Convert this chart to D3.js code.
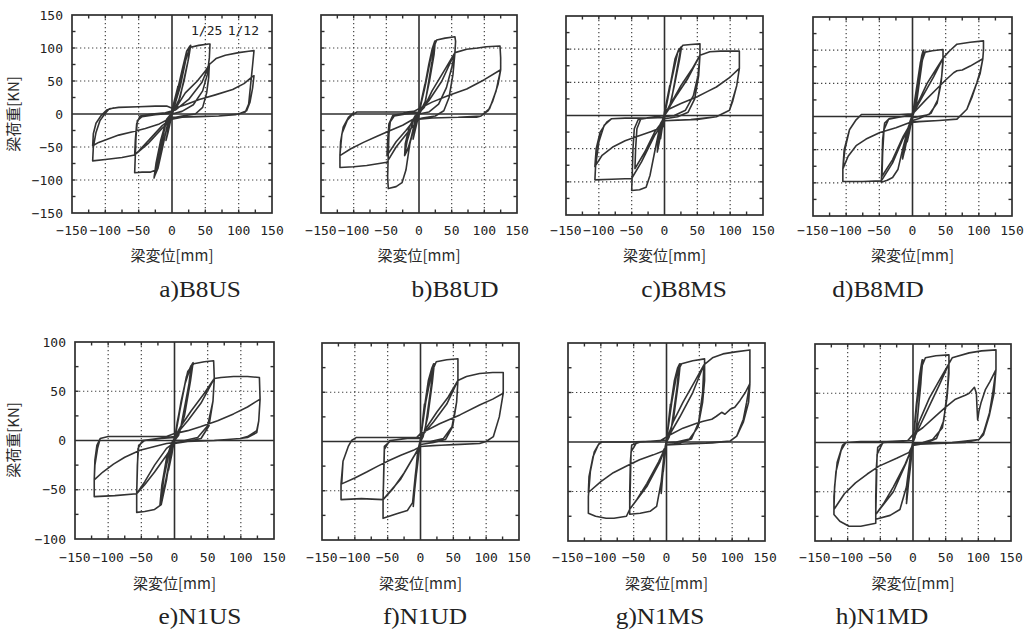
<!DOCTYPE html>
<html><head><meta charset="utf-8">
<script src="https://cdn.jsdelivr.net/npm/d3@7"></script>
<style>body{margin:0;background:#fff}</style>
</head><body>
<svg id="chart" width="1033" height="633"></svg>
<script>
// ---------- data (beam displacement mm, beam load kN) ----------
const xTicks = [-150, -100, -50, 0, 50, 100, 150];
const yTicksB8 = [-150, -100, -50, 0, 50, 100, 150];
const yTicksN1 = [-100, -50, 0, 50, 100];
const captions = ["a)B8US", "b)B8UD", "c)B8MS", "d)B8MD", "e)N1US", "f)N1UD", "g)N1MS", "h)N1MD"];
const xTitle = "梁変位[mm]";
const yTitle = "梁荷重[KN]";
const driftLabels = ["1/25", "1/12"];

const B8US = [
[0,0],[4,20],[9,42],[6,30],[0,6],[-4,-15],[-9,-40],[-6,-28],[0,0],
[8,35],[16,70],[22,95],[27,103],[28,104],[25,85],[18,50],[8,12],[0,2],[-6,-12],[-14,-50],[-21,-82],[-26,-94],[-27,-97],[-24,-75],[-17,-40],[-8,-8],[0,2],
[10,35],[20,80],[26,98],[27,100],[24,80],[12,25],[0,0],[-10,-30],[-20,-72],[-26,-92],[-22,-68],[-10,-15],[0,0],
[12,40],[22,88],[28,101],[40,104],[55,106],[57,106],[56,85],[53,60],[46,35],[32,14],[15,4],[0,0],[-8,-8],[-18,-55],[-24,-85],[-32,-88],[-45,-88],[-56,-89],[-55,-62],[-54,-35],[-52,-10],[-45,-4],[-25,-1],[-5,1],
[5,8],[20,32],[38,50],[50,65],[56,75],[55,55],[52,32],[46,10],[35,0],[15,-3],[0,-6],[-15,-18],[-35,-40],[-50,-56],[-56,-62],[-55,-40],[-53,-15],[-48,-3],[-30,0],[-10,2],
[5,6],[25,22],[45,48],[56,75],[66,84],[80,89],[100,93],[115,95],[123,96],[121,75],[118,45],[115,15],[110,3],[95,-1],[70,-3],[40,-4],[15,-5],[0,-8],[-15,-22],[-35,-44],[-56,-62],[-75,-66],[-100,-69],[-119,-71],[-118,-50],[-114,-28],[-108,-10],[-101,0],[-94,8],[-80,10],[-50,11],[-25,12],[-8,12],
[2,8],[20,14],[41,22],[65,29],[91,37],[108,46],[121,57],[123,58],[121,40],[117,18],[112,5],[100,0],[70,-3],[35,-4],[0,-5],[-19,-15],[-40,-22],[-59,-27],[-80,-32],[-94,-37],[-110,-43],[-119,-48],[-118,-30],[-114,-14],[-106,-2],[-98,6],[-88,9]
];

const B8UD = [
[0,0],[4,22],[9,45],[6,30],[0,5],[-4,-15],[-9,-38],[-6,-25],[0,0],
[8,38],[15,75],[20,98],[24,110],[25,111],[23,90],[16,50],[8,12],[0,0],[-5,-12],[-12,-38],[-18,-55],[-22,-63],[-21,-45],[-15,-20],[-6,-3],[0,2],
[9,40],[18,88],[23,106],[24,108],[20,80],[10,20],[0,0],[-8,-22],[-16,-50],[-22,-62],[-18,-40],[-8,-8],[0,2],
[10,45],[20,95],[27,112],[40,115],[55,117],[56,110],[55,93],[50,70],[42,40],[30,15],[15,3],[0,0],[-6,-10],[-14,-45],[-20,-85],[-26,-104],[-35,-110],[-47,-113],[-48,-95],[-47,-60],[-46,-30],[-44,-12],[-38,-3],[-20,0],[0,2],
[8,10],[20,35],[40,68],[55,93],[52,60],[46,25],[38,5],[25,-3],[5,-6],[-8,-10],[-20,-25],[-35,-42],[-49,-63],[-48,-40],[-46,-15],[-40,-2],[-20,1],[0,3],
[15,20],[35,50],[55,93],[73,98],[90,100],[103,102],[124,103],[125,85],[125,67],[118,35],[108,8],[95,-3],[88,-5],[60,-5],[20,-6],[0,-8],[-15,-25],[-35,-50],[-49,-73],[-80,-78],[-100,-80],[-121,-81],[-121,-62],[-118,-30],[-110,-10],[-103,-2],[-95,3],[-60,3],[-20,3],[-8,4],
[0,8],[20,18],[45,28],[73,38],[100,52],[125,67],[121,45],[113,20],[106,5],[95,-3],[60,-5],[20,-6],[0,-8],[-9,-8],[-25,-17],[-44,-25],[-65,-34],[-85,-43],[-105,-53],[-121,-63],[-120,-42],[-116,-20],[-108,-5],[-100,2]
];

const B8MS = [
[0,0],[4,25],[8,45],[5,30],[0,5],[-3,-15],[-6,-35],[-4,-22],[0,0],
[8,40],[15,78],[21,98],[25,103],[26,104],[23,85],[15,45],[7,10],[0,0],[-4,-15],[-8,-40],[-11,-55],[-10,-40],[-6,-15],[0,2],
[8,42],[16,85],[22,100],[25,102],[20,75],[10,20],[0,0],[-5,-22],[-10,-50],[-8,-35],[-3,-8],[0,2],
[10,50],[20,95],[28,106],[40,107],[54,108],[54,91],[51,60],[44,30],[32,8],[15,0],[0,-2],[-6,-12],[-15,-55],[-22,-90],[-28,-108],[-38,-112],[-50,-113],[-49,-85],[-48,-50],[-46,-20],[-40,-6],[-20,-3],[0,0],
[8,15],[25,45],[42,70],[54,91],[52,60],[46,25],[36,5],[20,-2],[0,-5],[-15,-25],[-30,-55],[-45,-80],[-44,-50],[-42,-20],[-36,-5],[-15,-2],[0,0],
[15,25],[35,55],[54,91],[69,96],[85,97],[99,97],[114,97],[114,84],[114,71],[110,45],[104,22],[99,8],[79,-2],[50,-6],[20,-7],[0,-8],[-15,-30],[-35,-70],[-50,-95],[-80,-96],[-106,-97],[-105,-77],[-100,-40],[-92,-15],[-81,-5],[-60,-4],[-30,-4],[0,-3],
[3,8],[25,18],[49,28],[65,36],[79,43],[100,58],[114,71],[110,45],[99,8],[79,-2],[40,-6],[0,-8],[-2,-17],[-20,-24],[-43,-32],[-60,-38],[-78,-47],[-95,-60],[-106,-77],[-104,-50],[-98,-25],[-88,-10],[-81,-5]
];

const B8MD = [
[0,0],[4,25],[8,45],[5,30],[0,5],[-4,-18],[-8,-38],[-5,-25],[0,0],
[6,40],[11,75],[14,92],[16,99],[17,100],[14,80],[8,35],[3,8],[0,0],[-5,-18],[-10,-42],[-14,-60],[-15,-64],[-12,-45],[-7,-18],[0,2],
[6,42],[12,82],[16,97],[14,78],[6,20],[0,0],[-7,-28],[-12,-52],[-15,-62],[-11,-38],[-4,-8],[0,3],
[8,45],[15,85],[19,97],[30,99],[46,101],[46,82],[43,50],[37,20],[25,3],[10,0],[0,-2],[-6,-15],[-15,-50],[-22,-80],[-30,-92],[-38,-96],[-47,-99],[-46,-70],[-45,-35],[-42,-10],[-35,-3],[-15,0],[0,2],
[8,20],[22,50],[36,72],[46,88],[44,60],[38,25],[28,5],[10,-3],[0,-6],[-14,-30],[-30,-65],[-46,-90],[-45,-55],[-43,-20],[-36,-4],[-15,0],[0,3],
[15,30],[32,60],[46,88],[55,98],[67,109],[87,112],[107,114],[107,100],[106,87],[102,68],[97,51],[90,30],[82,11],[67,-4],[40,-6],[10,-8],[0,-9],[-15,-35],[-30,-70],[-47,-97],[-75,-98],[-105,-98],[-105,-79],[-102,-50],[-95,-20],[-85,-5],[-77,3],[-50,3],[-20,3],[0,4],
[4,8],[20,25],[36,41],[50,55],[62,66],[67,69],[75,70],[87,76],[106,87],[102,65],[97,51],[82,11],[67,-4],[40,-6],[0,-8],[-4,-9],[-25,-17],[-49,-24],[-70,-34],[-85,-44],[-97,-60],[-105,-79],[-103,-50],[-95,-20],[-85,-5],[-77,3]
];

const N1US = [
[0,0],[4,18],[9,35],[6,22],[0,3],[-4,-14],[-9,-30],[-6,-18],[0,0],
[8,30],[16,58],[23,72],[27,78],[28,79],[24,60],[15,25],[6,5],[0,0],[-6,-15],[-13,-40],[-19,-60],[-22,-66],[-19,-45],[-12,-18],[-4,-2],[0,2],
[9,35],[18,65],[25,76],[22,58],[10,15],[0,0],[-8,-25],[-16,-52],[-21,-64],[-16,-38],[-6,-6],[0,2],
[10,40],[20,70],[29,78],[45,80],[59,81],[60,63],[58,40],[50,15],[35,3],[15,0],[0,0],[-5,-8],[-12,-40],[-20,-65],[-30,-70],[-45,-72],[-57,-73],[-57,-54],[-56,-25],[-54,-5],[-45,0],[-20,2],[0,3],
[10,15],[25,30],[45,48],[60,63],[58,40],[52,15],[40,2],[20,-1],[0,-3],[-12,-15],[-30,-32],[-45,-45],[-57,-54],[-56,-30],[-55,-8],[-48,0],[-25,2],[0,4],
[20,20],[40,38],[60,63],[70,64],[89,65],[110,65],[128,64],[129,42],[127,20],[124,10],[110,4],[99,2],[60,0],[20,-1],[0,-2],[-12,-8],[-30,-25],[-45,-42],[-57,-54],[-90,-56],[-121,-57],[-121,-40],[-120,-20],[-117,-5],[-112,2],[-100,4],[-60,4],[-12,4],
[0,7],[20,10],[39,14],[65,20],[89,27],[110,34],[129,42],[127,20],[124,8],[110,3],[99,2],[60,0],[20,-1],[0,-2],[-12,-3],[-30,-6],[-52,-10],[-75,-17],[-92,-24],[-108,-32],[-121,-40],[-120,-25],[-116,-8],[-112,2]
];

const N1UD = [
[0,0],[3,20],[6,38],[4,25],[0,3],[-3,-15],[-6,-32],[-4,-20],[0,0],
[6,35],[12,62],[17,74],[20,79],[21,79],[18,60],[11,25],[4,5],[0,0],[-4,-18],[-8,-42],[-10,-58],[-11,-66],[-9,-45],[-5,-15],[0,2],
[7,38],[14,66],[19,76],[16,55],[7,12],[0,0],[-5,-25],[-9,-50],[-11,-62],[-8,-35],[-3,-6],[0,2],
[8,40],[17,70],[24,81],[40,83],[57,84],[57,62],[55,40],[48,15],[35,3],[15,0],[0,0],[-3,-8],[-8,-35],[-12,-62],[-20,-70],[-35,-73],[-57,-78],[-57,-60],[-56,-30],[-55,-5],[-45,1],[-20,3],[0,3],
[10,15],[25,30],[42,45],[57,62],[55,40],[49,15],[38,2],[20,-1],[0,-3],[-10,-15],[-25,-32],[-42,-48],[-57,-59],[-56,-35],[-55,-8],[-47,1],[-20,3],[0,4],
[20,20],[40,38],[57,62],[70,66],[90,69],[110,70],[126,70],[126,49],[120,25],[111,5],[100,0],[90,-2],[60,-3],[20,-4],[0,-5],[-10,-15],[-30,-38],[-57,-59],[-90,-58],[-121,-59],[-121,-43],[-118,-20],[-110,-5],[-105,1],[-98,4],[-50,4],[-6,4],
[0,8],[29,18],[60,27],[90,37],[110,43],[126,49],[120,25],[111,5],[100,0],[90,-2],[50,-3],[0,-5],[-11,-9],[-30,-14],[-47,-19],[-65,-25],[-82,-31],[-100,-37],[-120,-43],[-118,-20],[-110,-5],[-105,1]
];

const N1MS = [
[0,0],[3,20],[6,38],[4,25],[0,3],[-3,-15],[-5,-30],[-3,-18],[0,0],
[6,35],[12,62],[17,75],[20,79],[21,79],[18,60],[11,25],[4,5],[0,0],[-3,-15],[-6,-35],[-8,-50],[-8,-52],[-6,-35],[-3,-12],[0,2],
[7,38],[14,66],[19,76],[16,55],[7,12],[0,0],[-4,-20],[-7,-42],[-8,-50],[-6,-30],[-2,-5],[0,2],
[8,40],[16,70],[23,79],[40,82],[58,84],[58,62],[55,40],[48,15],[35,3],[15,0],[0,-1],[-3,-8],[-8,-40],[-15,-65],[-25,-70],[-40,-72],[-56,-73],[-56,-50],[-55,-20],[-53,-3],[-40,0],[-20,1],[0,2],
[10,20],[25,40],[42,60],[57,78],[55,50],[49,20],[38,3],[20,-1],[0,-3],[-12,-20],[-30,-42],[-45,-58],[-56,-68],[-55,-40],[-54,-10],[-45,0],[-20,1],[0,2],
[20,25],[40,50],[57,78],[70,85],[86,89],[105,91],[127,93],[127,75],[127,60],[122,40],[117,23],[107,6],[97,1],[70,-1],[30,-2],[0,-3],[-10,-20],[-30,-45],[-56,-68],[-61,-75],[-80,-77],[-92,-77],[-108,-75],[-119,-72],[-119,-55],[-116,-30],[-110,-10],[-103,-2],[-99,0],[-60,0],[-10,1],
[2,6],[25,14],[46,19],[56,21],[69,23],[76,26],[84,30],[89,28],[97,33],[104,35],[112,42],[120,50],[127,59],[125,40],[117,20],[107,6],[97,1],[60,-1],[0,-3],[-5,-9],[-20,-13],[-41,-18],[-60,-24],[-81,-31],[-100,-40],[-119,-51],[-118,-35],[-112,-15],[-104,-3],[-99,0]
];

const N1MD = [
[0,0],[3,22],[6,40],[4,25],[0,3],[-3,-15],[-6,-32],[-4,-20],[0,0],
[5,38],[10,68],[13,80],[14,84],[15,84],[12,62],[7,25],[3,5],[0,0],[-3,-18],[-7,-42],[-9,-56],[-10,-62],[-8,-42],[-4,-12],[0,2],
[6,42],[11,72],[14,82],[12,60],[5,12],[0,0],[-4,-25],[-8,-48],[-10,-58],[-7,-32],[-2,-5],[0,2],
[7,45],[14,78],[19,86],[35,88],[55,89],[55,70],[52,45],[45,15],[30,3],[15,0],[0,-1],[-3,-8],[-10,-45],[-20,-68],[-35,-74],[-57,-78],[-57,-55],[-56,-25],[-54,-5],[-45,0],[-20,1],[0,2],
[10,22],[25,45],[42,65],[55,80],[53,55],[47,22],[36,4],[18,-1],[0,-3],[-12,-22],[-30,-45],[-45,-62],[-57,-73],[-56,-45],[-55,-12],[-46,0],[-20,1],[0,2],
[20,30],[40,58],[55,80],[60,86],[86,91],[105,93],[127,94],[127,84],[127,74],[122,50],[117,30],[108,10],[101,3],[80,0],[40,-1],[0,-2],[-10,-20],[-30,-50],[-57,-73],[-57,-82],[-80,-85],[-98,-85],[-112,-80],[-121,-73],[-121,-55],[-118,-30],[-110,-8],[-103,0],[-80,1],[-40,1],[-8,2],
[0,8],[15,15],[35,27],[50,36],[65,44],[80,48],[86,50],[94,56],[97,50],[98,35],[99,23],[101,32],[104,40],[111,54],[118,62],[127,74],[124,50],[117,28],[108,8],[101,3],[60,0],[0,-2],[-6,-10],[-25,-16],[-52,-24],[-70,-32],[-88,-41],[-105,-52],[-121,-68],[-120,-45],[-116,-20],[-108,-3],[-103,0]
];

// ---------- layout ----------
const layout = [
  {x0:72, x1:272, y0:15, y1:213, cap:200, row:0},
  {x0:321,x1:517, y0:15, y1:213, cap:455, row:0},
  {x0:566,x1:763, y0:16, y1:215, cap:684, row:0},
  {x0:813,x1:1012,y0:17, y1:216, cap:878, row:0},
  {x0:75, x1:274, y0:342,y1:539, cap:200, row:1},
  {x0:322,x1:519, y0:343,y1:540, cap:425, row:1},
  {x0:568,x1:765, y0:343,y1:541, cap:660, row:1},
  {x0:815,x1:1011,y0:344,y1:541, cap:882, row:1}
];
const rowText = [{tick:235, title:261, cap:297, ymid:114}, {tick:562, title:589, cap:624, ymid:440}];
const series = [B8US, B8UD, B8MS, B8MD, N1US, N1UD, N1MS, N1MD];

const INK = "#2e2e2e";
const svg = d3.select("#chart");
svg.append("rect").attr("width",1033).attr("height",633).attr("fill","#fff");

series.forEach((data, i) => {
  const L = layout[i];
  const yTicks = L.row === 0 ? yTicksB8 : yTicksN1;
  const yMax = d3.max(yTicks);
  const x = d3.scaleLinear().domain([-150,150]).range([L.x0, L.x1]);
  const y = d3.scaleLinear().domain([-yMax, yMax]).range([L.y1, L.y0]);
  const g = svg.append("g");

  // dotted grid
  const gridX = xTicks.filter(v => v !== 0 && Math.abs(v) < 150);
  const gridY = yTicks.filter(v => v !== 0 && Math.abs(v) < yMax);
  g.selectAll(".gx").data(gridX).join("line")
    .attr("x1", d => x(d)).attr("x2", d => x(d)).attr("y1", L.y0).attr("y2", L.y1)
    .attr("stroke", "#444").attr("stroke-width", 1.2).attr("stroke-dasharray", "1.3 2.7");
  g.selectAll(".gy").data(gridY).join("line")
    .attr("y1", d => y(d)).attr("y2", d => y(d)).attr("x1", L.x0).attr("x2", L.x1)
    .attr("stroke", "#444").attr("stroke-width", 1.2).attr("stroke-dasharray", "1.3 2.7");

  // minor inward ticks every 25
  const minorX = d3.range(-125, 150, 25).filter(v => v !== 0);
  const minorY = d3.range(-yMax + 25, yMax, 25).filter(v => v !== 0);
  const tk = 3.5;
  minorX.forEach(v => {
    g.append("line").attr("x1", x(v)).attr("x2", x(v)).attr("y1", L.y1).attr("y2", L.y1 - tk).attr("stroke", INK).attr("stroke-width", 1.4);
    g.append("line").attr("x1", x(v)).attr("x2", x(v)).attr("y1", L.y0).attr("y2", L.y0 + tk).attr("stroke", INK).attr("stroke-width", 1.4);
  });
  minorY.forEach(v => {
    g.append("line").attr("y1", y(v)).attr("y2", y(v)).attr("x1", L.x0).attr("x2", L.x0 + tk).attr("stroke", INK).attr("stroke-width", 1.4);
    g.append("line").attr("y1", y(v)).attr("y2", y(v)).attr("x1", L.x1).attr("x2", L.x1 - tk).attr("stroke", INK).attr("stroke-width", 1.4);
  });

  // zero axes
  g.append("line").attr("x1", x(0)).attr("x2", x(0)).attr("y1", L.y0).attr("y2", L.y1).attr("stroke", INK).attr("stroke-width", 1.6);
  g.append("line").attr("y1", y(0)).attr("y2", y(0)).attr("x1", L.x0).attr("x2", L.x1).attr("stroke", INK).attr("stroke-width", 1.6);

  // hysteresis curve
  const line = d3.line().x(d => x(d[0])).y(d => y(d[1]));
  g.append("path").datum(data).attr("d", line)
    .attr("fill", "none").attr("stroke", "#333").attr("stroke-width", 1.6)
    .attr("stroke-linejoin", "round").attr("stroke-linecap", "round");

  // frame
  g.append("rect").attr("x", L.x0).attr("y", L.y0).attr("width", L.x1 - L.x0).attr("height", L.y1 - L.y0)
    .attr("fill", "none").attr("stroke", INK).attr("stroke-width", 1.7);

  const R = rowText[L.row];
  // x tick labels
  const fmt = d3.format("d");
  g.selectAll(".xt").data(xTicks).join("text")
    .attr("x", d => x(d)).attr("y", R.tick).attr("text-anchor", "middle")
    .attr("font-family", "'DejaVu Sans Mono', 'Liberation Mono', monospace").attr("font-size", 13)
    .attr("fill", "#222").text(d => fmt(d));
  // x title
  g.append("text").attr("x", (L.x0 + L.x1) / 2).attr("y", R.title).attr("text-anchor", "middle")
    .attr("font-family", "'Noto Sans CJK JP', 'Noto Sans CJK SC', sans-serif").attr("font-size", 15)
    .attr("fill", "#2a2a2a").text(xTitle);
  // caption
  g.append("text").attr("transform", `translate(${L.cap},${R.cap}) scale(1.1,1)`).attr("text-anchor", "middle")
    .attr("font-family", "'Liberation Serif', 'DejaVu Serif', serif").attr("font-size", 23)
    .attr("fill", "#222").text(captions[i]);

  // y labels only on first column
  if (i % 4 === 0) {
    g.selectAll(".yt").data(yTicks).join("text")
      .attr("x", L.x0 - 9).attr("y", d => y(d)).attr("dy", "0.36em").attr("text-anchor", "end")
      .attr("font-family", "'DejaVu Sans Mono', 'Liberation Mono', monospace").attr("font-size", 13)
      .attr("fill", "#222").text(d => fmt(d));
    g.append("text").attr("transform", `translate(19,${R.ymid}) rotate(-90)`).attr("text-anchor", "middle")
      .attr("font-family", "'Noto Sans CJK JP', 'Noto Sans CJK SC', sans-serif").attr("font-size", 15)
      .attr("fill", "#2a2a2a").text(yTitle);
  }

  if (i === 0) {
    g.append("text").attr("x", x(52)).attr("y", y(120)).attr("text-anchor", "middle")
      .attr("font-family", "'DejaVu Sans Mono', monospace").attr("font-size", 13).attr("fill", "#222").text(driftLabels[0]);
    g.append("text").attr("x", x(107)).attr("y", y(120)).attr("text-anchor", "middle")
      .attr("font-family", "'DejaVu Sans Mono', monospace").attr("font-size", 13).attr("fill", "#222").text(driftLabels[1]);
  }
});
</script>
</body></html>
